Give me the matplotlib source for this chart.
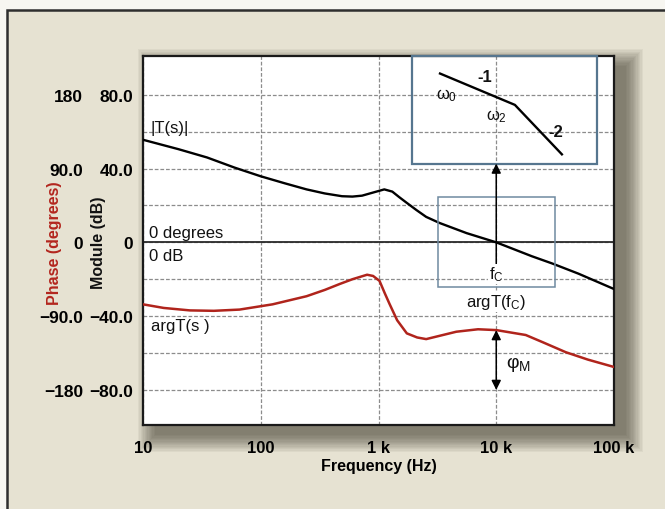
import matplotlib
matplotlib.use('Agg')
import matplotlib.pyplot as plt
from matplotlib.patches import Rectangle
from matplotlib.ticker import NullLocator

# magnitude |T(s)| in dB
freq_mag = [10, 20, 35, 60, 100, 160, 245, 350, 490, 600, 725, 900, 1120, 1310,
            1500, 1730, 2100, 2540, 3300, 5600, 10000, 20000, 30000, 50000, 100000]
mag_db = [55.6, 50.5, 46.0, 40.5, 35.8, 32.0, 28.7, 26.5, 25.0, 24.8, 25.3, 27.0,
          28.7, 27.5, 24.5, 21.5, 17.5, 13.8, 10.5, 5.0, 0.0, -7.5, -11.5, -17.0, -25.3]

# phase argT(s) in degrees
freq_phase = [10, 15, 25, 40, 66, 126, 245, 350, 468, 600, 800, 900, 1020, 1130,
              1240, 1440, 1740, 2130, 2540, 3300, 4580, 7000, 10000, 17800, 25000,
              39000, 60000, 100000]
phase_deg = [-75.6, -80, -83, -83.5, -82, -75.6, -65.7, -58, -50.8, -45, -39.5, -41,
             -47, -62, -75, -95, -111, -116, -118, -114, -109, -106, -107, -113, -122,
             -134, -143, -152]

freq_ticks = [10, 100, 1000, 10000, 100000]
freq_labels = ['10', '100', '1 k', '10 k', '100 k']
db_ticks = [-80, -40, 0, 40, 80]
db_minor = [-60, -20, 20, 60]
db_labels = ['\u221280.0', '\u221240.0', '0', '40.0', '80.0']
phase_ticks = [-180, -90, 0, 90, 180]
phase_labels = ['\u2212180', '\u221290.0', '0', '90.0', '180']

# schematic inset (asymptotic slopes) and crossover box
inset_box = (1930, 42.7, 71800, 101)      # f0, db0, f1, db1
inset_f = [3330, 14400, 36100]
inset_db = [91.5, 74.5, 47.7]
zoom_box = (3200, -24.1, 31600, 24.7)
f_c = 10000
phase_at_fc = -107

DB_MIN, DB_MAX = -99, 101
PH_SCALE = 2.25

plt.rcParams['font.family'] = ['Liberation Sans', 'DejaVu Sans']
plt.rcParams['mathtext.fontset'] = 'custom'
plt.rcParams['mathtext.rm'] = 'Liberation Sans'
plt.rcParams['mathtext.it'] = 'Liberation Sans'
plt.rcParams['mathtext.bf'] = 'Liberation Sans:bold'

W, H = 665, 510
fig = plt.figure(figsize=(W / 100, H / 100), dpi=100)
fig.patch.set_facecolor('#f7f6f1')

# beige card with dark frame on top/left
fig.patches.append(Rectangle((7 / W, -0.1), 1.2, 1.1 - 11 / H, transform=fig.transFigure,
                             facecolor='#e6e2d2', edgecolor='#2e2e2e', lw=1.8, zorder=-10))

x0, x1, y0, y1 = 143, 614, 57, 426
axpos = [x0 / W, 1 - y1 / H, (x1 - x0) / W, (y1 - y0) / H]

# soft drop shadow, mostly to the right and below
for i in range(14):
    g = 1.3 * i
    fig.patches.append(Rectangle(((x0 + 12 - g) / W, 1 - (y1 + 10 + g) / H),
                                 (x1 - x0 + 2 * g) / W, (y1 - y0 + 2 * g) / H,
                                 transform=fig.transFigure, facecolor='#3a3528',
                                 edgecolor='none', alpha=0.055, zorder=-5))

ax = fig.add_axes(axpos)
ax.set_facecolor('white')
ax.set_xscale('log')
ax.set_xlim(10, 100000)
ax.set_ylim(DB_MIN, DB_MAX)
ax.xaxis.set_minor_locator(NullLocator())
ax.set_xticks(freq_ticks, freq_labels)
ax.set_yticks(db_ticks, db_labels)
ax.set_yticks(db_minor, minor=True)
ax.tick_params(axis='both', which='both', length=0)
ax.tick_params(axis='x', pad=11, labelsize=12)
ax.tick_params(axis='y', pad=7, labelsize=12.5)
for lab in ax.get_xticklabels() + ax.get_yticklabels():
    lab.set_fontweight('bold')
ax.grid(axis='y', which='both', color='#8c8c8c', ls=(0, (3, 1.5)), lw=0.9)
ax.grid(axis='x', which='major', color='#8c8c8c', ls=(0, (3, 1.5)), lw=0.9)
ax.set_axisbelow(True)
for s in ax.spines.values():
    s.set_linewidth(1.6)
    s.set_color('#1a1a1a')

ax.axhline(0, color='#2a2a2a', lw=1.3, zorder=2)
ax.plot(freq_mag, mag_db, color='black', lw=1.7, zorder=3)

ax.set_xlabel('Frequency (Hz)', fontsize=11.5, fontweight='bold', labelpad=2)
fig.text(99 / W, 1 - 243 / H, 'Module (dB)', rotation=90, ha='center', va='center',
         fontsize=11.5, fontweight='bold', color='#111111')
fig.text(55 / W, 1 - 243 / H, 'Phase (degrees)', rotation=90, ha='center', va='center',
         fontsize=11.5, fontweight='bold', color='#b3261e')

# phase axis sharing the plot, labels on the left
ax2 = ax.twinx()
ax2.set_ylim(DB_MIN * PH_SCALE, DB_MAX * PH_SCALE)
ax2.yaxis.set_ticks_position('left')
ax2.spines['left'].set_position(('outward', 40))
for s in ax2.spines.values():
    s.set_visible(False)
ax2.set_yticks(phase_ticks, phase_labels)
ax2.tick_params(axis='y', length=0, pad=3, labelsize=12.5)
for lab in ax2.get_yticklabels():
    lab.set_fontweight('bold')
ax2.plot(freq_phase, phase_deg, color='#b0241c', lw=1.8, zorder=3)

# boxes
bx0, by0, bx1, by1 = inset_box
ax.add_patch(Rectangle((bx0, by0), bx1 - bx0, by1 - by0, facecolor='none',
                       edgecolor='#56768f', lw=1.6, zorder=4, clip_on=False))
zx0, zy0, zx1, zy1 = zoom_box
ax.add_patch(Rectangle((zx0, zy0), zx1 - zx0, zy1 - zy0, facecolor='none',
                       edgecolor='#6f8aa0', lw=1.1, zorder=4))
ax.plot(inset_f, inset_db, color='black', lw=1.7, zorder=5)

# arrows
ax.annotate('', xy=(f_c, by0), xytext=(f_c, -18),
            arrowprops=dict(arrowstyle='-|>', color='black', lw=1.1,
                            mutation_scale=14, shrinkA=0, shrinkB=0), zorder=5)
ax2.annotate('', xy=(f_c, -180), xytext=(f_c, phase_at_fc),
             arrowprops=dict(arrowstyle='<|-|>', color='black', lw=1.1,
                             mutation_scale=14, shrinkA=0, shrinkB=0), zorder=5)

# labels on the chart
txt = dict(fontsize=12, color='#111111', zorder=6)
ax.text(11.5, 62.5, '|T(s)|', ha='left', va='center', **txt)
ax.text(11.3, 5.5, '0 degrees', ha='left', va='center', **txt)
ax.text(11.3, -7.2, '0 dB', ha='left', va='center', **txt)
ax.text(11.8, -45, 'argT(s )', ha='left', va='center', **txt)
ax.text(f_c, -17, r'f$_\mathrm{C}$', ha='center', va='center',
        bbox=dict(facecolor='white', edgecolor='none', pad=0.5), **txt)
ax.text(f_c, -32, r'argT(f$_\mathrm{C}$)', ha='center', va='center',
        bbox=dict(facecolor='white', edgecolor='none', pad=0.5), **txt)
ax2.text(f_c * 1.2, -148, r'$\varphi_\mathrm{M}$', ha='left', va='center',
         fontsize=14, color='#111111')
ax.text(3800, 80, r'$\omega_0$', ha='center', va='center', **txt)
ax.text(9960, 68.5, r'$\omega_2$', ha='center', va='center', **txt)
ax.text(8040, 90, '-1', ha='center', va='center', fontweight='bold', **txt)
ax.text(32000, 60.3, '-2', ha='center', va='center', fontweight='bold', **txt)

fig.savefig('out.png', dpi=100, facecolor=fig.get_facecolor())
